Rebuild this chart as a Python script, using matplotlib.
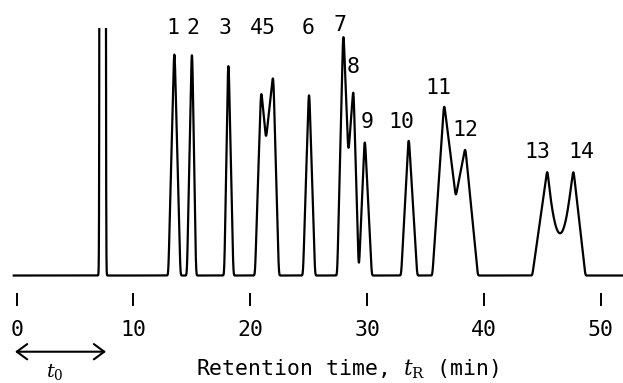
import numpy as np
import matplotlib
matplotlib.use('Agg')
import matplotlib.pyplot as plt

plt.rcParams['font.family'] = ['DejaVu Sans Mono']
plt.rcParams['mathtext.fontset'] = 'dejavuserif'

# peaks 1-14: retention time (min), height above
# baseline, left / right half-widths at the base (min) and side curvature
ret_time = [13.50, 15.01, 18.12, 20.92, 21.97, 25.03, 27.96, 28.82, 29.80,
            33.56, 36.59, 38.41, 45.43, 47.66]
height = [222, 222, 211, 180, 137, 181, 238.5, 182, 133.5,
          135, 168.5, 123.5, 103.3, 103.3]
half_left = [0.514, 0.428, 0.342, 0.514, 0.625, 0.514, 0.514, 0.428, 0.514,
             0.642, 1.000, 0.822, 1.284, 2.230]
half_right = [0.514, 0.342, 0.428, 1.515, 0.479, 0.514, 0.826, 0.471, 0.599,
              0.728, 1.824, 1.070, 1.800, 1.027]
curve_left = [1, 1, 1, 1, 1, 1, 1, 1, 1, 1, 1, 1, 1, 2]
curve_right = [1, 1, 1, 1, 1, 1, 1, 1, 1, 1, 1, 1, 2, 1]

# off-scale spike at the dead time
t0_time = 7.36
t0_width = 0.0704

peak_labels = ['1', '2', '3', '45', '6', '7', '8', '9', '10', '11', '12', '13', '14']
label_t = [13.36, 15.07, 17.84, 21.11, 24.97, 27.68, 28.82, 29.97, 32.96,
           36.10, 38.44, 44.57, 48.31]
label_h = [248, 248, 248, 248, 248, 250.5, 208.8, 153.8, 153.8,
           187.2, 145.5, 123.8, 123.8]

xticks = [0, 10, 20, 30, 40, 50]

# build the trace: triangular peaks, slightly rounded
t = np.linspace(-2, 53, 22001)
dt = t[1] - t[0]
blur = 0.045
signal = np.zeros_like(t)
for tr, h, wl, wr, pl, pr in zip(ret_time, height, half_left, half_right,
                                 curve_left, curve_right):
    hh = h + (pl * h / wl + pr * h / wr) * blur * 0.399  # apex stays at h after smoothing
    left = hh * np.clip(1 - (tr - t) / wl, 0, None) ** pl
    right = hh * np.clip(1 - (t - tr) / wr, 0, None) ** pr
    signal += np.where(t < tr, left, right)
k = np.arange(-80, 81) * dt
kernel = np.exp(-k ** 2 / (2 * blur ** 2))
signal = np.convolve(signal, kernel / kernel.sum(), mode='same')
signal += 1e6 * np.exp(-(t - t0_time) ** 2 / (2 * t0_width ** 2))
keep = t >= -0.25

fig = plt.figure(figsize=(6.23, 3.83), dpi=100)
ax = fig.add_axes([0, 0.2010, 1, 0.7258])
ax.plot(t[keep], signal[keep], color='black', lw=1.6, solid_joinstyle='round')
ax.set_xlim(-1.427, 51.91)
ax.set_ylim(-30.5, 247.5)

for name, lt, lh in zip(peak_labels, label_t, label_h):
    ax.text(lt, lh, name, ha='center', va='center', fontsize=15.5)

for s in ax.spines.values():
    s.set_visible(False)
ax.set_yticks([])
ax.set_xticks(xticks)
ax.tick_params(axis='x', direction='in', length=9.4, width=1.4, pad=10,
               labelsize=15.5)

# t0 arrow
ax.annotate('', xy=(7.65, -76.2), xytext=(-0.14, -76.2), annotation_clip=False,
            arrowprops=dict(arrowstyle='<->,head_length=0.75,head_width=0.55',
                            lw=1.5, color='black', shrinkA=0, shrinkB=0))
ax.text(3.28, -106.3, r'$t_0$', ha='center', va='bottom', fontsize=14, clip_on=False)

fig.text(347 / 623, 14 / 383, r'Retention time, $t_\mathrm{R}$ (min)',
         ha='center', va='center', fontsize=15.5)

fig.savefig('out.png', dpi=100)
